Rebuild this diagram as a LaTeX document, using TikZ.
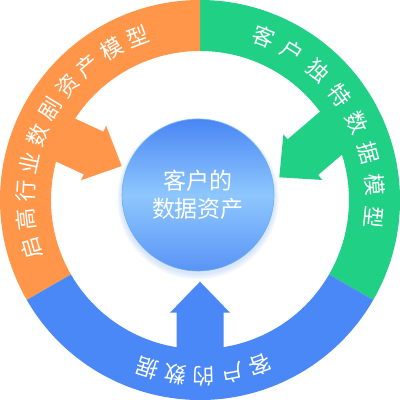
\documentclass[tikz,border=0pt]{standalone}
\usepackage{fontspec}
\setmainfont{Noto Sans CJK SC}
\definecolor{orangeseg}{HTML}{FF964A}
\definecolor{greenseg}{HTML}{20D085}
\definecolor{blueseg}{HTML}{4A88F8}
\definecolor{ctop}{HTML}{4A86F4}
\definecolor{cmid}{HTML}{8EC7FD}
\definecolor{cbot}{HTML}{5A94F6}
\definecolor{cedge}{HTML}{6AAEF5}
\definecolor{cglow}{HTML}{7AA8F2}
\tikzset{
  ringtext/.style={text=white, font=\fontsize{22}{22}\selectfont, inner sep=0pt, anchor=center},
  centertext/.style={text=white, font=\fontsize{23}{28}\selectfont, inner sep=0pt, align=center},
  corecircle/.style={circle, minimum size=152pt, inner sep=0pt, top color=ctop, bottom color=cbot, middle color=cmid, draw=cedge, line width=0.6pt},
  glow/.style={fill=cglow, fill opacity=0.10, draw=none}
}
\newcommand\ringseg[3]{%
  \fill[#1] ([shift={(#2:200pt)}]C) arc[start angle=#2, end angle=#3, radius=200pt]
    -- ([shift={(#3:149pt)}]C) arc[start angle=#3, end angle=#2, radius=149pt] -- cycle;}
\newcommand\ringarrow[4]{%
  \fill[#1, shift={(#2pt,#3pt)}, rotate=#4]
    (0pt,0pt) -- (-31pt,30pt) -- (-31pt,23.5pt) -- (-92pt,23.5pt) -- (-92pt,-23.5pt)
    -- (-31pt,-23.5pt) -- (-31pt,-30pt) -- cycle;}
\begin{document}
\begin{tikzpicture}[x=1pt,y=1pt]
\useasboundingbox (0,0) rectangle (400,400);
\coordinate (C) at (200,200);
% arrows
\ringarrow{orangeseg}{121.7}{234}{-24.8}
\ringarrow{greenseg}{279.3}{222.7}{220.5}
\ringarrow{blueseg}{200}{118.3}{90}
% ring segments
\ringseg{greenseg}{-30}{90}
\ringseg{orangeseg}{90}{210}
\ringseg{blueseg}{210}{330}
% ring texts
\foreach \ch [count=\i from 0] in {启,高,行,业,数,剧,资,产,模,型}{
  \pgfmathsetmacro\ang{153.5+9.45*(4.5-\i)}
  \node[ringtext, rotate=\ang-90] (o\i) at ([shift={(\ang:175pt)}]C) {\ch};
}
\foreach \ch [count=\i from 0] in {客,户,独,特,数,据,模,型}{
  \pgfmathsetmacro\ang{31.5+10.6*(3.5-\i)}
  \node[ringtext, rotate=\ang-90] (g\i) at ([shift={(\ang:175pt)}]C) {\ch};
}
\foreach \ch [count=\i from 0] in {客,户,的,数,据}{
  \pgfmathsetmacro\ang{-88.7+9.3*(2-\i)}
  \node[ringtext, rotate=\ang-90] (b\i) at ([shift={(\ang:176pt)}]C) {\ch};
}
% core circle
\fill[glow] (198,202.5) circle[radius=77.5pt];
\fill[glow] (198,202) circle[radius=79pt];
\fill[glow] (198,201.5) circle[radius=80.5pt];
\node[corecircle] (core) at (198,205) {};
\node[centertext] (ct) at (198,205) {客户的\\数据资产};
\end{tikzpicture}
\end{document}
